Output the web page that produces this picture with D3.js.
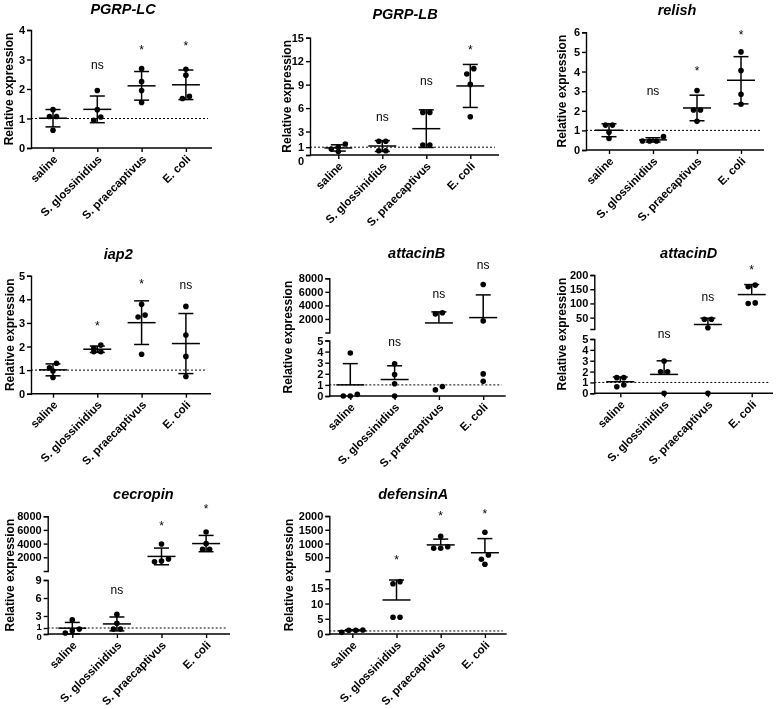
<!DOCTYPE html>
<html><head><meta charset="utf-8">
<script src="https://cdn.jsdelivr.net/npm/d3@7"></script>
<style>
body{margin:0;background:#fff}
svg{will-change:transform;opacity:0.999}
text{font-family:"Liberation Sans",Arial,sans-serif;fill:#000}
</style>
</head><body>
<svg id="c" width="777" height="709"></svg>
<script>
// ---------- data ----------
const categories = ["saline", "S. glossinidius", "S. praecaptivus", "E. coli"];
const genes = ["PGRP-LC", "PGRP-LB", "relish", "iap2", "attacinB", "attacinD", "cecropin", "defensinA"];

const pgrpLC   = [[1.07, 1.07, 1.30, 0.60], [1.95, 1.30, 0.94, 1.05], [2.69, 2.25, 1.95, 1.54], [2.67, 2.47, 1.68, 1.75]];
const pgrpLB   = [[0.98, 0.45, 0.77, 1.41], [1.75, 1.75, 0.55, 0.55], [5.45, 5.45, 1.28, 1.28], [10.35, 11.04, 9.03, 4.90]];
const relish   = [[1.27, 1.27, 0.90, 0.59], [0.46, 0.46, 0.46, 0.68], [3.03, 2.04, 2.04, 1.46], [5.00, 4.05, 2.84, 2.33]];
const iap2     = [[1.29, 1.10, 0.96, 0.69], [1.92, 1.78, 1.78, 2.06], [3.79, 3.33, 3.25, 1.67], [3.70, 2.49, 1.58, 0.73]];
const attacinB = [[0.15, 3.87, 0.0, 0.0], [2.91, 1.93, 1.10, 0.0], [0.55, 0.86, 2919, 2726], [7081, 1710, 1.99, 1.32]];
const attacinD = [[1.44, 1.44, 0.61, 0.77], [2.98, 1.99, 1.99, 0.0], [44.5, 44.5, 14.4, 0.0], [164.5, 158.6, 99.5, 101.9]];
const cecropin = [[2.35, 0.82, 0.55, 0.16], [3.27, 1.80, 0.82, 0.82], [3940, 1750, 1360, 1460], [5690, 3990, 3170, 3170]];
const defensinA= [[1.21, 0.55, 1.21, 1.32], [17.2, 16.5, 5.5, 5.5], [1262, 884, 825, 825], [1407, 582, 425, 244]];
const panelValues = [pgrpLC, pgrpLB, relish, iap2, attacinB, attacinD, cecropin, defensinA];

const sigLabels = [
  ["", "ns", "*", "*"], ["", "ns", "ns", "*"], ["", "ns", "*", "*"], ["", "*", "*", "ns"],
  ["", "ns", "ns", "ns"], ["", "ns", "ns", "*"], ["", "ns", "*", "*"], ["", "*", "*", "*"]
];
const sigHeights = [
  [0, 2.80, 3.43, 3.57], [0, 4.69, 9.37, 13.85], [0, 2.97, 4.16, 6.03], [0, 3.01, 4.79, 4.56],
  [0, 4.82, 5609, 9815], [0, 7, 118, 229], [0, 7.2, 6963, 9489], [0, 498, 2098, 2182]
];

const lowerDomains = [[0, 4], [0, 15], [0, 6], [0, 5], [0, 5], [0, 5], [0, 9], [0, 18]];
const upperDomains = [null, null, null, null, [0, 8000], [10, 200], [0, 8000], [0, 2000]];
const lowerTicks = [[0, 1, 2, 3, 4], [0, 1, 3, 6, 9, 12, 15], [0, 1, 2, 3, 4, 5, 6], [0, 1, 2, 3, 4, 5],
                    [0, 1, 2, 3, 4, 5], [0, 1, 2, 3, 4, 5], [0, 1, 3, 6, 9], [0, 5, 10, 15]];
const upperTicks = [null, null, null, null, [2000, 4000, 6000, 8000], [50, 100, 150, 200],
                    [2000, 4000, 6000, 8000], [500, 1000, 1500, 2000]];
const referenceLevel = 1;

// ---------- layout ----------
const layout = [
  {ax: 31,    xEnd: 212,   c0: 53,    step: 44.3, yBot: 148,   yTop: 30,    tx: 123,   ty: 13.5,  lx: 9},
  {ax: 310,   xEnd: 499,   c0: 338.3, step: 44,   yBot: 155,   yTop: 37.7,  tx: 405,   ty: 19,    lx: 286.7, zeroShift: 6},
  {ax: 586,   xEnd: 764,   c0: 609,   step: 44,   yBot: 150,   yTop: 32.3,  tx: 677,   ty: 15,    lx: 562},
  {ax: 31,    xEnd: 211,   c0: 53,    step: 44.3, yBot: 393.7, yTop: 275.7, tx: 118.3, ty: 259,   lx: 9.3},
  {ax: 329.3, xEnd: 505.7, c0: 350.3, step: 44.3, yBot: 396,   lowTop: 340.5, upBot: 332.5, yTop: 278.3, tx: 416.7, ty: 258.3, lx: 288,   errUp: true},
  {ax: 594.3, xEnd: 773,   c0: 620.3, step: 43.8, yBot: 393.3, lowTop: 339,   upBot: 329,   yTop: 275,   tx: 688.7, ty: 258.3, lx: 562,   errUp: true},
  {ax: 47.7,  xEnd: 230,   c0: 72.3,  step: 44.6, yBot: 634,   lowTop: 580,   upBot: 571,   yTop: 516.2, tx: 143.3, ty: 499,   lx: 9.3,   zeroShift: 2, oneShift: -2, smallLow: 9.5},
  {ax: 329.3, xEnd: 506.7, c0: 352.3, step: 44.2, yBot: 634,   lowTop: 579.2, upBot: 571,   yTop: 516,   tx: 413.3, ty: 499,   lx: 288.3, errUp: true}
];

const svg = d3.select("#c");
const AXW = 1.4, R = 2.8, DX = 7, MEANW = 28, CAPW = 15, TICKFS = 11;

function styleAxis(g) {
  g.select(".domain").attr("stroke-width", AXW);
  g.selectAll(".tick line").attr("stroke-width", AXW);
  g.selectAll(".tick text").attr("font-size", TICKFS + "px").attr("font-weight", "bold");
}

panelValues.forEach((vals, i) => {
  const L = layout[i];
  const g = svg.append("g");
  const broken = !!upperDomains[i];

  const x = d3.scalePoint().domain(categories).range([L.c0, L.c0 + 3 * L.step]);
  const lower = d3.scaleLinear().domain(lowerDomains[i]).range([L.yBot, broken ? L.lowTop : L.yTop]);
  let upper = null, gap = null;
  if (broken) {
    upper = d3.scaleLinear().domain(upperDomains[i]).range([L.upBot, L.yTop]);
    gap = d3.scaleLinear().domain([lowerDomains[i][1], Math.max(upperDomains[i][0], lowerDomains[i][1] + 1e-9)]).range([L.lowTop, L.upBot]);
  }
  const lMax = lowerDomains[i][1];
  const y = v => {
    if (!broken || v <= lMax) return lower(v);
    if (v < upperDomains[i][0]) return gap(v);
    return upper(v);
  };

  // y axes
  const ly = g.append("g").attr("transform", `translate(${L.ax},0)`)
    .call(d3.axisLeft(lower).tickValues(lowerTicks[i]).tickSize(4).tickSizeOuter(4).tickPadding(2).tickFormat(d3.format("d")));
  styleAxis(ly);
  if (L.smallLow) ly.selectAll(".tick text").filter(d => d === 0 || d === 1).attr("font-size", L.smallLow + "px");
  if (L.zeroShift) ly.selectAll(".tick text").filter(d => d === 0).attr("dy", (0.32 * TICKFS + L.zeroShift) + "px");
  if (L.oneShift) ly.selectAll(".tick text").filter(d => d === 1).attr("dy", (0.32 * TICKFS + L.oneShift) + "px");
  if (broken) {
    const uy = g.append("g").attr("transform", `translate(${L.ax},0)`)
      .call(d3.axisLeft(upper).tickValues(upperTicks[i]).tickSize(4).tickSizeOuter(4).tickPadding(2).tickFormat(d3.format("d")));
    styleAxis(uy);
  }

  // x axis
  const xa = g.append("g").attr("transform", `translate(0,${L.yBot})`)
    .call(d3.axisBottom(x).tickSize(4).tickSizeOuter(0));
  xa.select(".domain").remove();
  xa.selectAll(".tick line").attr("stroke-width", AXW);
  xa.selectAll(".tick text")
    .attr("font-size", "11.5px").attr("font-weight", "bold")
    .attr("text-anchor", "end").attr("x", 0).attr("y", 0).attr("dy", "0.35em")
    .attr("transform", "translate(2,9) rotate(-45)");
  g.append("line").attr("x1", L.ax).attr("x2", L.xEnd).attr("y1", L.yBot).attr("y2", L.yBot)
    .attr("stroke", "#000").attr("stroke-width", AXW);

  // reference line
  g.append("line").attr("x1", L.ax).attr("x2", L.xEnd - 4)
    .attr("y1", y(referenceLevel)).attr("y2", y(referenceLevel))
    .attr("stroke", "#000").attr("stroke-width", 1).attr("stroke-dasharray", "2,2");

  // title + y label
  g.append("text").attr("x", L.tx).attr("y", L.ty).attr("text-anchor", "middle")
    .attr("font-size", "14.5px").attr("font-weight", "bold").attr("font-style", "italic").text(genes[i]);
  g.append("text").attr("transform", `translate(${L.lx},${(L.yBot + L.yTop) / 2}) rotate(-90)`)
    .attr("text-anchor", "middle").attr("dy", "0.35em")
    .attr("font-size", "12px").attr("font-weight", "bold").text("Relative expression");

  // groups
  vals.forEach((arr, k) => {
    const cx = x(categories[k]);
    const mean = d3.mean(arr), sd = d3.deviation(arr);
    const top = mean + sd, bot = Math.max(mean - sd, lowerDomains[i][0]);
    const eg = g.append("g").attr("stroke", "#000").attr("stroke-width", 1.5);
    eg.append("line").attr("x1", cx - MEANW / 2).attr("x2", cx + MEANW / 2).attr("y1", y(mean)).attr("y2", y(mean));
    eg.append("line").attr("x1", cx).attr("x2", cx).attr("y1", y(top)).attr("y2", L.errUp ? y(mean) : y(bot));
    eg.append("line").attr("x1", cx - CAPW / 2).attr("x2", cx + CAPW / 2).attr("y1", y(top)).attr("y2", y(top));
    if (!L.errUp) eg.append("line").attr("x1", cx - CAPW / 2).attr("x2", cx + CAPW / 2).attr("y1", y(bot)).attr("y2", y(bot));

    // dots arranged in rows
    const pts = arr.map(v => ({v, py: y(v)})).sort((a, b) => a.py - b.py);
    const rows = [];
    pts.forEach(p => {
      const last = rows[rows.length - 1];
      if (last && p.py - last[0].py < 5.5) last.push(p); else rows.push([p]);
    });
    rows.forEach(row => {
      row.sort((a, b) => a.v - b.v);
      row.forEach((p, j) => { p.px = cx + (j - (row.length - 1) / 2) * DX; });
    });
    g.append("g").selectAll("circle").data(pts).join("circle")
      .attr("cx", p => p.px).attr("cy", p => p.py).attr("r", R).attr("fill", "#000");

    // significance
    const lab = sigLabels[i][k];
    if (lab) {
      g.append("text").attr("x", cx).attr("y", y(sigHeights[i][k]))
        .attr("dy", lab === "*" ? "0.58em" : "0.26em")
        .attr("text-anchor", "middle").attr("font-size", "12px").attr("fill", "#222").text(lab);
    }
  });
});
</script>
</body></html>
